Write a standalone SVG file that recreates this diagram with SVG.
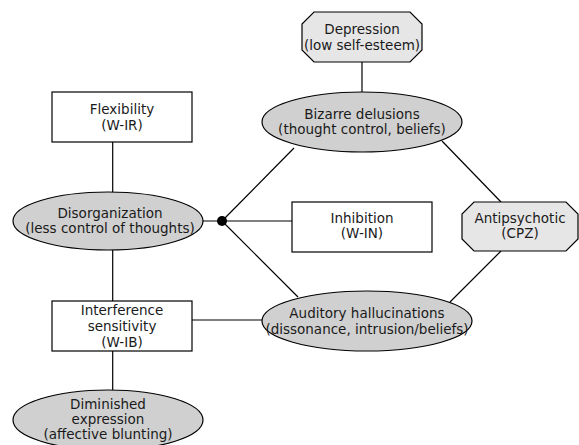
<svg xmlns="http://www.w3.org/2000/svg" width="579" height="445" viewBox="0 0 579 445">
<style>
  .box { fill: #ffffff; stroke: #000; stroke-width: 1.2; }
  .ell { fill: #d0d0d0; stroke: #000; stroke-width: 1.2; }
  .oct { fill: #e6e6e6; stroke: #000; stroke-width: 1.2; }
  .edge { stroke: #000; stroke-width: 1.2; fill: none; }
  text { font-family: "DejaVu Sans", "Liberation Sans", sans-serif; font-size: 13.5px; fill: #1a1a1a; text-anchor: middle; }
</style>
<rect width="579" height="445" fill="#ffffff"/>
<g id="connectors">
  <line class="edge" x1="112.7" y1="142" x2="112.7" y2="192"/>
  <line class="edge" x1="362" y1="62" x2="362" y2="92"/>
  <line class="edge" x1="203" y1="221" x2="292" y2="221"/>
  <line class="edge" x1="222" y1="221" x2="294" y2="148"/>
  <line class="edge" x1="222" y1="221" x2="298" y2="297"/>
  <line class="edge" x1="442" y1="141" x2="501" y2="202"/>
  <line class="edge" x1="501" y1="251" x2="450" y2="302"/>
  <line class="edge" x1="112.7" y1="250" x2="112.7" y2="301"/>
  <line class="edge" x1="112.7" y1="351" x2="112.7" y2="390"/>
  <line class="edge" x1="192" y1="320" x2="262" y2="320"/>
  <circle cx="222" cy="221" r="5" fill="#000"/>
</g>
<g id="depression">
  <polygon class="oct" points="314,12 410,12 422,24 422,50 410,62 314,62 302,50 302,24"/>
  <text x="362" y="34">Depression</text>
  <text x="362" y="50">(low self-esteem)</text>
</g>
<g id="flexibility">
  <rect class="box" x="52" y="92" width="140" height="50"/>
  <text x="122" y="113.5">Flexibility</text>
  <text x="122" y="130">(W-IR)</text>
</g>
<g id="bizarre">
  <ellipse class="ell" cx="362" cy="122" rx="100" ry="30"/>
  <text x="362" y="119">Bizarre delusions</text>
  <text x="362" y="134">(thought control, beliefs)</text>
</g>
<g id="disorganization">
  <ellipse class="ell" cx="108" cy="221" rx="95" ry="29"/>
  <text x="110" y="218">Disorganization</text>
  <text x="110" y="233">(less control of thoughts)</text>
</g>
<g id="inhibition">
  <rect class="box" x="292" y="202" width="140" height="50"/>
  <text x="362" y="223">Inhibition</text>
  <text x="362" y="238">(W-IN)</text>
</g>
<g id="antipsychotic">
  <polygon class="oct" points="474,202 566,202 578,214 578,239 566,251 474,251 462,239 462,214"/>
  <text x="520" y="223">Antipsychotic</text>
  <text x="520" y="238">(CPZ)</text>
</g>
<g id="auditory">
  <ellipse class="ell" cx="367" cy="321" rx="105" ry="30"/>
  <text x="367" y="318">Auditory hallucinations</text>
  <text x="367" y="333.5">(dissonance, intrusion/beliefs)</text>
</g>
<g id="interference">
  <rect class="box" x="52" y="301" width="140" height="50"/>
  <text x="122" y="315">Interference</text>
  <text x="122" y="331">sensitivity</text>
  <text x="122" y="347">(W-IB)</text>
</g>
<g id="diminished">
  <ellipse class="ell" cx="108" cy="420" rx="95" ry="30"/>
  <text x="108" y="408.5">Diminished</text>
  <text x="108" y="423.5">expression</text>
  <text x="108" y="439">(affective blunting)</text>
</g>
</svg>
